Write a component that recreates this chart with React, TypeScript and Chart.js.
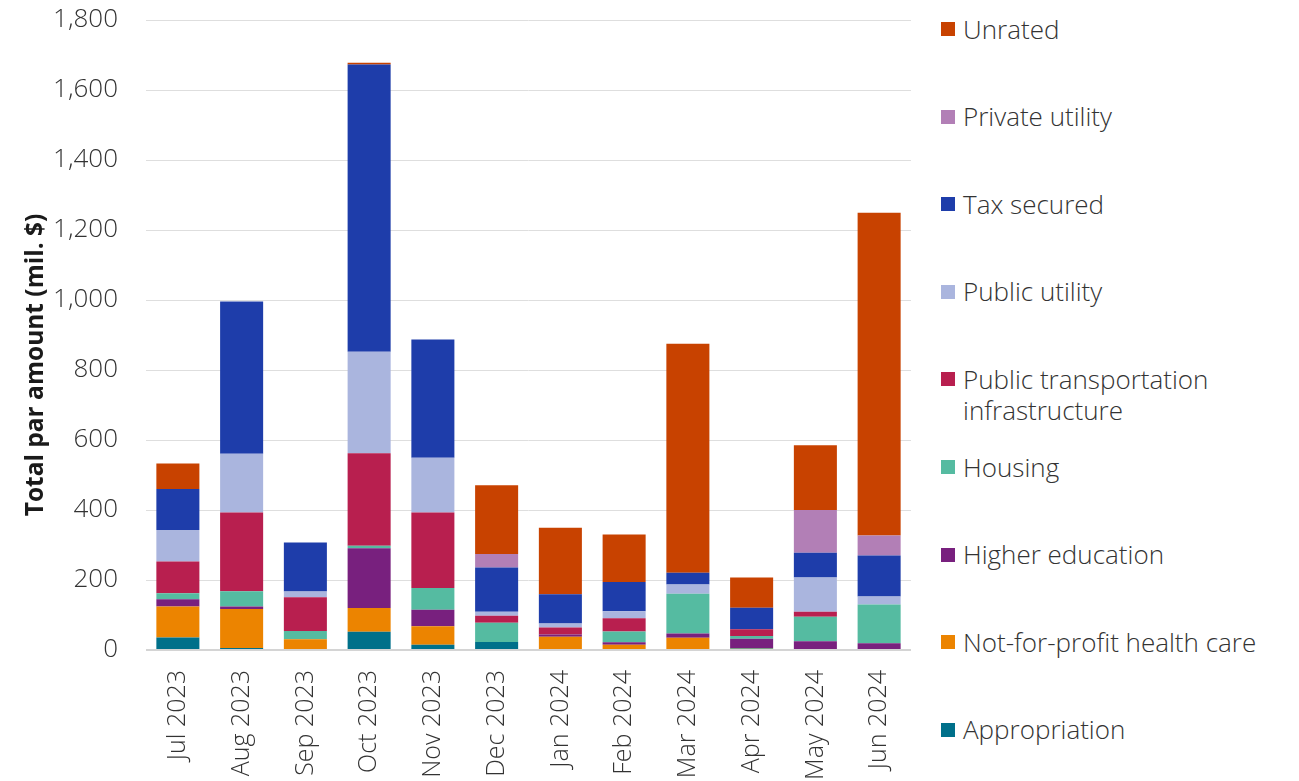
import React, { useEffect, useRef } from "react";
import { Chart, registerables } from "chart.js";

Chart.register(...registerables);

const months = [
  "Jul 2023", "Aug 2023", "Sep 2023", "Oct 2023", "Nov 2023", "Dec 2023",
  "Jan 2024", "Feb 2024", "Mar 2024", "Apr 2024", "May 2024", "Jun 2024",
];

const appropriation = [36, 6, 0, 52, 15, 23, 0, 0, 0, 4, 0, 0];
const notForProfitHealthCare = [88, 111, 31, 68, 53, 0, 38, 15, 35, 2, 0, 0];
const higherEducation = [21, 7, 0, 171, 47, 0, 6, 7, 12, 26, 25, 19];
const housing = [17, 44, 23, 7, 62, 55, 0, 31, 114, 8, 70, 111];
const publicTransportation = [91, 225, 97, 264, 216, 20, 20, 38, 0, 19, 14, 0];
const publicUtility = [90, 168, 16, 290, 156, 11, 12, 20, 26, 0, 98, 23];
const taxSecured = [117, 435, 140, 821, 338, 127, 83, 83, 34, 62, 71, 117];
const privateUtility = [0, 0, 0, 0, 0, 38, 0, 0, 0, 0, 122, 57];
const unrated = [73, 0, 0, 5, 0, 197, 190, 136, 654, 86, 185, 922];

const seriesNames = [
  "Appropriation",
  "Not-for-profit health care",
  "Higher education",
  "Housing",
  "Public transportation\ninfrastructure",
  "Public utility",
  "Tax secured",
  "Private utility",
  "Unrated",
];
const seriesValues = [
  appropriation,
  notForProfitHealthCare,
  higherEducation,
  housing,
  publicTransportation,
  publicUtility,
  taxSecured,
  privateUtility,
  unrated,
];
const seriesColors = [
  "#00708A",
  "#EC8400",
  "#78207E",
  "#55BBA1",
  "#B81F4F",
  "#AAB5DE",
  "#1E3DAA",
  "#B27FB6",
  "#C84200",
];

const yTitle = "Total par amount (mil. $)";
const yMin = 0;
const yMax = 1800;
const yStep = 200;

const FONT = "'Open Sans', 'Noto Sans', sans-serif";

export default function App() {
  const ref = useRef<HTMLCanvasElement | null>(null);

  useEffect(() => {
    if (!ref.current) return;
    const titlePlugin = {
      id: "yTitleDraw",
      afterDraw(chart: any) {
        const { ctx, chartArea } = chart;
        ctx.save();
        ctx.translate(36, (chartArea.top + chartArea.bottom) / 2 + 30);
        ctx.rotate(-Math.PI / 2);
        ctx.font = `bold 24.5px ${FONT}`;
        ctx.fillStyle = "#1a1a1a";
        ctx.textAlign = "center";
        ctx.textBaseline = "middle";
        ctx.fillText(yTitle, 0, 0);
        ctx.restore();
      },
    };

    const chart = new Chart(ref.current, {
      type: "bar",
      data: {
        labels: months,
        datasets: seriesNames.map((name, i) => ({
          label: name,
          data: seriesValues[i],
          backgroundColor: seriesColors[i],
          borderWidth: 0,
          barPercentage: 0.675,
          categoryPercentage: 1,
        })),
      },
      options: {
        animation: false,
        responsive: false,
        maintainAspectRatio: false,
        layout: { padding: { top: 20, right: 14, left: 0, bottom: 0 } },
        plugins: {
          legend: { display: false },
          tooltip: { enabled: false },
        },
        scales: {
          x: {
            stacked: true,
            grid: { display: false },
            border: { display: false },
            ticks: {
              maxRotation: 90,
              minRotation: 90,
              padding: 12,
              color: "#333",
              font: { family: FONT, size: 25, weight: 300 as any },
            },
            afterFit: (s: any) => {
              s.height = 131;
              s.paddingLeft = 0;
              s.paddingRight = 0;
            },
          },
          y: {
            stacked: true,
            min: yMin,
            max: yMax,
            border: { display: false },
            grid: {
              color: (c: any) => (c.tick && c.tick.value === 0 ? "#d4d4d4" : "#dedede"),
              lineWidth: (c: any) => (c.tick && c.tick.value === 0 ? 2 : 1),
              drawTicks: false,
            },
            ticks: {
              stepSize: yStep,
              padding: 28,
              color: "#333",
              font: { family: FONT, size: 26, weight: 300 as any },
            },
            afterFit: (s: any) => {
              s.width = 146;
              s.paddingTop = 0;
              s.paddingBottom = 0;
            },
          },
        },
      },
      plugins: [titlePlugin],
    });
    return () => chart.destroy();
  }, []);

  const legendOrder = seriesNames.map((_, i) => i).reverse();

  return (
    <div
      style={{
        position: "absolute",
        left: 0,
        top: 0,
        width: 1299,
        height: 781,
        background: "#fff",
        overflow: "hidden",
      }}
    >
      <canvas
        ref={ref}
        width={925}
        height={781}
        style={{ position: "absolute", left: 0, top: 0, width: 925, height: 781 }}
      />
      {legendOrder.map((idx, k) => (
        <div
          key={idx}
          style={{
            position: "absolute",
            left: 941,
            top: 29 + k * 87.6 - 15.5,
            display: "flex",
            alignItems: "flex-start",
            fontFamily: FONT,
            fontWeight: 300,
            fontSize: 26,
            lineHeight: "31px",
            color: "#333",
            whiteSpace: "pre-line",
          }}
        >
          <div
            style={{
              width: 14,
              height: 14,
              marginTop: 8.5,
              marginRight: 8,
              background: seriesColors[idx],
              flex: "0 0 auto",
            }}
          />
          <div>{seriesNames[idx]}</div>
        </div>
      ))}
    </div>
  );
}
